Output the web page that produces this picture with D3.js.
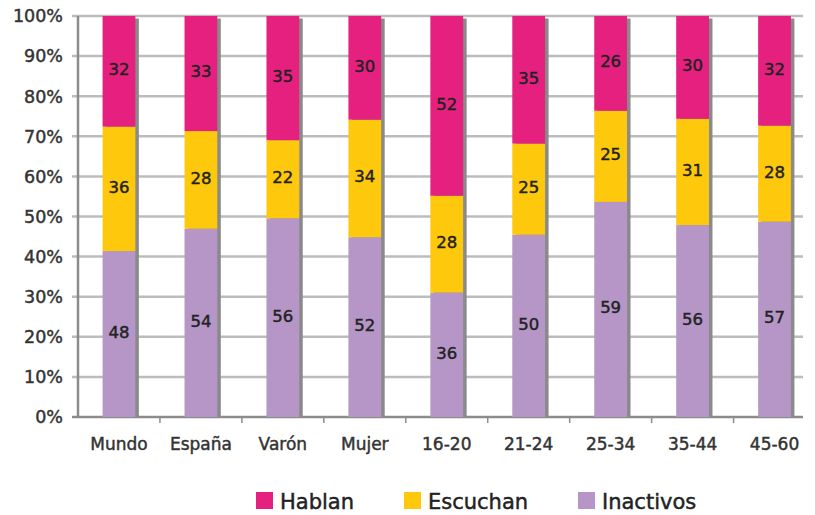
<!DOCTYPE html>
<html>
<head>
<meta charset="utf-8">
<script src="https://cdn.jsdelivr.net/npm/d3@7"></script>
<style>
    body { margin: 0; background: #fff; }
    svg { display: block; font-family: "DejaVu Sans", Verdana, sans-serif; }
    .heavy { stroke-width: 0.45px; paint-order: stroke; }
</style>
</head>
<body>
<svg id="chart" width="815" height="515"></svg>
<script>
/**
 * Stacked 100% bars - Hablan / Escuchan / Inactivos
 */
(function () {

    var categories = ["Mundo", "España", "Varón", "Mujer", "16-20", "21-24", "25-34", "35-44", "45-60"];
    var inactivos = [48, 54, 56, 52, 36, 50, 59, 56, 57];
    var escuchan = [36, 28, 22, 34, 28, 25, 25, 31, 28];
    var hablan = [32, 33, 35, 30, 52, 35, 26, 30, 32];
    var yTicks = [0, 0.1, 0.2, 0.3, 0.4, 0.5, 0.6, 0.7, 0.8, 0.9, 1];

    var seriesNames = ["Inactivos", "Escuchan", "Hablan"];
    var colors = { Hablan: "#e5207f", Escuchan: "#fec80c", Inactivos: "#b596c6" };
    var legendOrder = ["Hablan", "Escuchan", "Inactivos"];

    var left = 78, right = 803, top = 16, bottom = 417;

    // build normalized rows for d3.stack
    var rows = categories.map(function (c, i) {
        var total = inactivos[i] + escuchan[i] + hablan[i];
        return {
            cat: c,
            raw: { Inactivos: inactivos[i], Escuchan: escuchan[i], Hablan: hablan[i] },
            Inactivos: inactivos[i] / total,
            Escuchan: escuchan[i] / total,
            Hablan: hablan[i] / total
        };
    });

    var stacked = d3.stack().keys(seriesNames)(rows);

    var svg = d3.select("#chart");

    var x = d3.scaleBand()
        .domain(categories)
        .range([left, 815.5])
        .paddingInner(0.6)
        .paddingOuter(0.3);

    var y = d3.scaleLinear()
        .domain([0, 1])
        .range([bottom, top]);

    // gridlines
    svg.append("g")
        .selectAll("line")
        .data(yTicks)
        .join("line")
        .attr("x1", left - 6)
        .attr("x2", right)
        .attr("y1", function (d) { return y(d); })
        .attr("y2", function (d) { return y(d); })
        .attr("stroke", function (d) { return d === 0 ? "#8c8c8c" : "#bcbcbc"; })
        .attr("stroke-width", 2.5);

    // y axis line
    svg.append("line")
        .attr("x1", left).attr("x2", left)
        .attr("y1", top).attr("y2", bottom)
        .attr("stroke", "#8c8c8c")
        .attr("stroke-width", 2.5);

    // x ticks at band boundaries
    var step = x.step();
    svg.append("g")
        .selectAll("line")
        .data(categories.slice(0, -1))
        .join("line")
        .attr("x1", function (d) { return x(d) + x.bandwidth() / 2 + step / 2; })
        .attr("x2", function (d) { return x(d) + x.bandwidth() / 2 + step / 2; })
        .attr("y1", bottom)
        .attr("y2", bottom + 6)
        .attr("stroke", "#8c8c8c")
        .attr("stroke-width", 1.5);

    // bar shadows
    svg.append("g")
        .selectAll("rect")
        .data(categories)
        .join("rect")
        .attr("x", function (d) { return x(d) + 3.5; })
        .attr("y", y(1) + 2.5)
        .attr("width", x.bandwidth())
        .attr("height", y(0) - y(1) - 2.5)
        .attr("fill", "#8a8a8a");

    // stacked segments
    var layers = svg.append("g")
        .selectAll("g")
        .data(stacked)
        .join("g")
        .attr("fill", function (s) { return colors[s.key]; });

    layers.selectAll("rect")
        .data(function (s) { return s; })
        .join("rect")
        .attr("x", function (d) { return x(d.data.cat); })
        .attr("y", function (d) { return y(d[1]); })
        .attr("width", x.bandwidth())
        .attr("height", function (d) { return y(d[0]) - y(d[1]); });

    // value labels
    stacked.forEach(function (s) {
        svg.append("g")
            .selectAll("text")
            .data(s)
            .join("text")
            .attr("class", "heavy")
            .attr("x", function (d) { return x(d.data.cat) + x.bandwidth() / 2; })
            .attr("y", function (d) { return (y(d[0]) + y(d[1])) / 2 - 2; })
            .attr("dy", "0.36em")
            .attr("text-anchor", "middle")
            .attr("font-size", 16.5)
            .attr("fill", "#222")
            .attr("stroke", "#222")
            .text(function (d) { return d.data.raw[s.key]; });
    });

    // y axis labels
    svg.append("g")
        .selectAll("text")
        .data(yTicks)
        .join("text")
        .attr("class", "heavy")
        .attr("x", 63)
        .attr("y", function (d) { return y(d); })
        .attr("dy", "0.36em")
        .attr("text-anchor", "end")
        .attr("font-size", 17.5)
        .attr("fill", "#333")
        .attr("stroke", "#333")
        .text(d3.format(".0%"));

    // x axis labels
    svg.append("g")
        .selectAll("text")
        .data(categories)
        .join("text")
        .attr("class", "heavy")
        .attr("x", function (d) { return x(d) + x.bandwidth() / 2; })
        .attr("y", 450)
        .attr("text-anchor", "middle")
        .attr("font-size", 17)
        .attr("fill", "#333")
        .attr("stroke", "#333")
        .text(function (d) { return d; });

    // legend - kept just inside the bottom edge
    var legendX = [256, 404, 578];
    var legend = svg.append("g")
        .selectAll("g")
        .data(legendOrder)
        .join("g")
        .attr("transform", function (d, i) { return "translate(" + legendX[i] + ",492)"; });

    legend.append("rect")
        .attr("width", 17)
        .attr("height", 17)
        .attr("fill", function (d) { return colors[d]; });

    legend.append("text")
        .attr("class", "heavy")
        .attr("x", 24)
        .attr("y", 17)
        .attr("font-size", 21)
        .attr("fill", "#222")
        .attr("stroke", "#222")
        .text(function (d) { return d; });

})();
</script>
</body>
</html>
